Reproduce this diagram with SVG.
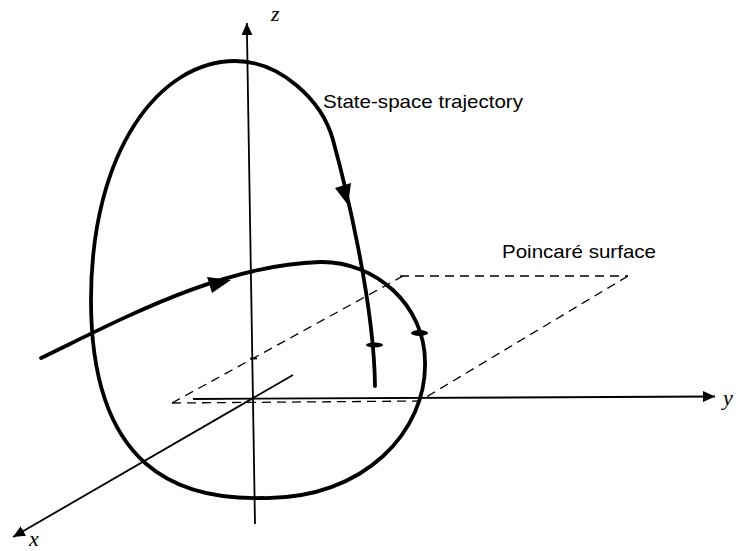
<svg xmlns="http://www.w3.org/2000/svg" width="736" height="551" viewBox="0 0 736 551">
<style>
.axis{fill:none;stroke:#000;stroke-width:1.8}
.dash{fill:none;stroke:#000;stroke-width:1.3;stroke-dasharray:9 6}
.traj{fill:none;stroke:#000;stroke-width:3.8;stroke-linecap:round;stroke-linejoin:round}
.lbl{font-family:"Liberation Sans",Arial,sans-serif;font-size:19px;fill:#000}
.ax{font-family:"Liberation Serif","Times New Roman",serif;font-style:italic;font-size:22px;fill:#000}
</style>
<defs>
<marker id="ah" markerUnits="userSpaceOnUse" markerWidth="14" markerHeight="12" refX="12" refY="6" orient="auto">
<path d="M0,0.5 L12,6 L0,11.5 Z" fill="#000"/>
</marker>
</defs>
<rect width="736" height="551" fill="#fff"/>
<g id="plane">
<path class="dash" d="M172,403 L422,401"/>
<path class="dash" d="M172,403 L403,276"/>
<path class="dash" d="M400,276 L628,276"/>
<path class="dash" d="M628,276 L423,399"/>
</g>
<g id="axes">
<line id="z-axis" class="axis" x1="255" y1="524" x2="246.8" y2="23" marker-end="url(#ah)"/>
<line id="y-axis" class="axis" x1="193" y1="399" x2="715" y2="396.5" marker-end="url(#ah)"/>
<line id="x-axis" class="axis" x1="293" y1="375" x2="13" y2="537" marker-end="url(#ah)"/>
<line class="axis" x1="250" y1="358.5" x2="257" y2="358.5"/>
</g>
<g id="trajectory">
<path class="traj" d="M41,358 C120,320 220,265 320,262 C375,261 425,305 425,362 C427,430 365,500 262,498 C180,500 91,470 91,300 C91,150 160,61 235,61 C280,61 322,100 333,140 C344,180 374,300 375,386"/>
<polygon points="231,280 207,277 212,293" fill="#000"/>
<polygon points="348,205 335,188 351,183" fill="#000"/>
<ellipse cx="374.5" cy="345" rx="8.5" ry="2.4" fill="#000"/>
<ellipse cx="419.5" cy="333" rx="8.5" ry="3" fill="#000"/>
</g>
<g id="labels">
<text class="lbl" x="323" y="108" textLength="200" lengthAdjust="spacingAndGlyphs">State-space trajectory</text>
<text class="lbl" x="502" y="258" textLength="154" lengthAdjust="spacingAndGlyphs">Poincaré surface</text>
<text class="ax" x="271" y="21">z</text>
<text class="ax" x="723" y="405">y</text>
<text class="ax" x="29" y="546">x</text>
</g>
</svg>
